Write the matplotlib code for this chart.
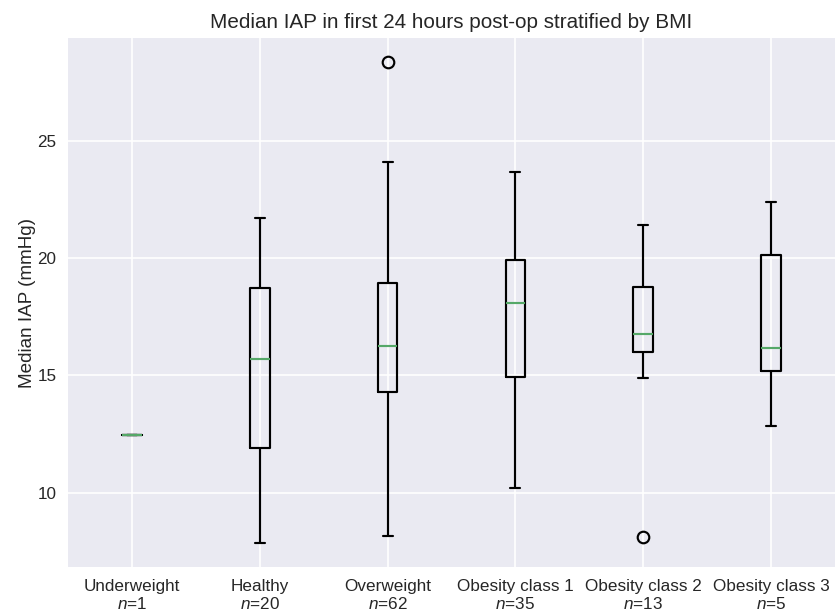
import matplotlib
matplotlib.use("Agg")
import matplotlib.pyplot as plt

plt.style.use("seaborn-v0_8")
plt.rcParams["font.family"] = ["Liberation Sans", "DejaVu Sans"]
plt.rcParams["mathtext.fontset"] = "custom"
plt.rcParams["mathtext.it"] = "Liberation Sans:italic"
plt.rcParams["mathtext.rm"] = "Liberation Sans"
plt.rcParams["xtick.labelsize"] = 10.4
plt.rcParams["ytick.labelsize"] = 10.4
plt.rcParams["axes.labelsize"] = 11.4
plt.rcParams["axes.titlesize"] = 12.5

# values (mmHg)
groups = ["Underweight", "Healthy", "Overweight",
          "Obesity class 1", "Obesity class 2", "Obesity class 3"]
counts = [1, 20, 62, 35, 13, 5]
q1 = [12.47, 11.89, 14.29, 14.94, 16.01, 15.17]
median = [12.47, 15.68, 16.25, 18.11, 16.77, 16.17]
q3 = [12.47, 18.72, 18.94, 19.94, 18.77, 20.15]
whislo = [12.47, 7.86, 8.16, 10.18, 14.90, 12.86]
whishi = [12.47, 21.71, 24.10, 23.67, 21.43, 22.39]
fliers = [[], [], [28.36], [], [8.12], []]

stats = []
for i, g in enumerate(groups):
    stats.append({"label": g, "q1": q1[i], "med": median[i], "q3": q3[i],
                  "whislo": whislo[i], "whishi": whishi[i], "fliers": fliers[i]})

dpi = 119
fig = plt.figure(figsize=(835 / dpi, 613 / dpi), dpi=dpi)
ax = fig.add_axes([68 / 835, 46 / 613, 1 - 68 / 835, (567 - 38) / 613])

lw = 1.3
ax.bxp(stats, widths=0.155,
       boxprops=dict(color="black", linewidth=lw),
       whiskerprops=dict(color="black", linewidth=lw),
       capprops=dict(color="black", linewidth=lw),
       medianprops=dict(color="#55A868", linewidth=lw),
       flierprops=dict(marker="o", markerfacecolor="none", markeredgewidth=lw,
                       markeredgecolor="black", markersize=7))

ax.set_xticks(range(1, len(groups) + 1))
ax.set_xticklabels([f"{g}\n$n$={c}" for g, c in zip(groups, counts)])
ax.set_xlim(0.5, 6.5)
ax.set_ylim(6.83, 29.39)
ax.set_yticks([10, 15, 20, 25])
ax.set_ylabel("Median IAP (mmHg)", labelpad=1)
ax.set_title("Median IAP in first 24 hours post-op stratified by BMI")

fig.savefig("out.png", dpi=dpi)
